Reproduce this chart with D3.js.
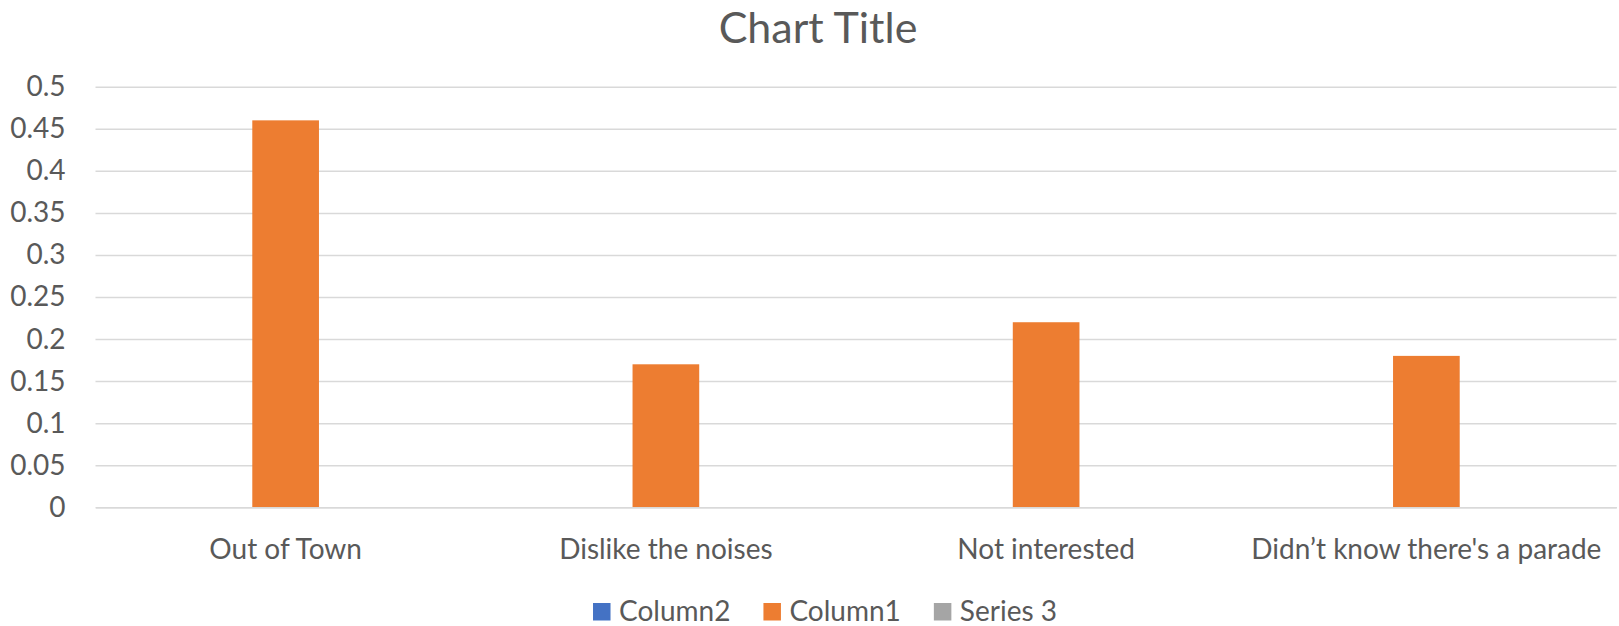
<!DOCTYPE html>
<html>
<head>
<meta charset="utf-8">
<script src="https://cdn.jsdelivr.net/npm/d3@7"></script>
<style>
  html, body { margin: 0; padding: 0; background: #ffffff; }
  svg { display: block; }
  text { font-family: Lato, "Open Sans", sans-serif; fill: #595959; }
</style>
</head>
<body>
<svg id="chart" width="1619" height="626"></svg>
<script>
// Categories and series
const categories = ["Out of Town", "Dislike the noises", "Not interested", "Didn\u2019t know there's a parade"];
const seriesNames = ["Column2", "Column1", "Series 3"];
const column2 = [null, null, null, null];
const column1 = [0.46, 0.17, 0.22, 0.18];
const series3 = [null, null, null, null];
const yTicks = [0, 0.05, 0.1, 0.15, 0.2, 0.25, 0.3, 0.35, 0.4, 0.45, 0.5];
const chartTitle = "Chart Title";

const seriesValues = [column2, column1, series3];
const seriesColors = ["#4472C4", "#ED7D31", "#A5A5A5"];

const W = 1619, H = 626;
const plot = { left: 95.5, right: 1616.5, top: 86.7, bottom: 507.3 };

const svg = d3.select("#chart");

const y = d3.scaleLinear().domain([0, 0.5]).range([plot.bottom, plot.top]);
const x0 = d3.scaleBand().domain(categories).range([plot.left, plot.right])
  .paddingInner(0.474).paddingOuter(0.237);
const x1 = d3.scaleBand().domain(seriesNames).range([0, x0.bandwidth()]);

// Horizontal gridlines with value labels
const yAxis = d3.axisLeft(y).tickValues(yTicks)
  .tickSize(-(plot.right - plot.left)).tickPadding(30)
  .tickFormat(d => String(+d.toFixed(2)));
const gy = svg.append("g").attr("transform", `translate(${plot.left},0)`).call(yAxis);
gy.select(".domain").remove();
gy.selectAll(".tick line").attr("stroke", "#d9d9d9").attr("stroke-width", 1.5);
gy.selectAll(".tick text").attr("font-size", 28).style("font-family", "Lato").attr("fill", "#595959");

// Bars
const rows = categories.map((c, i) => ({ category: c, values: seriesNames.map((s, k) => ({ series: s, value: seriesValues[k][i], color: seriesColors[k] })) }));
const groups = svg.append("g").selectAll("g").data(rows).join("g")
  .attr("transform", d => `translate(${x0(d.category)},0)`);
groups.selectAll("rect").data(d => d.values.filter(v => v.value != null)).join("rect")
  .attr("x", d => x1(d.series))
  .attr("width", x1.bandwidth())
  .attr("y", d => y(d.value))
  .attr("height", d => y(0) - y(d.value))
  .attr("fill", d => d.color);

// Category axis
const xAxis = d3.axisBottom(x0).tickSize(0).tickPadding(0);
const gx = svg.append("g").attr("transform", `translate(0,${plot.bottom})`).call(xAxis);
gx.select(".domain").attr("stroke", "#d9d9d9").attr("stroke-width", 1.5);
gx.selectAll(".tick text").attr("font-size", 28).attr("dy", null).attr("y", 52)
  .style("font-family", "Lato").attr("fill", "#595959");

// Title
svg.append("text").attr("x", 818).attr("y", 43).attr("text-anchor", "middle")
  .attr("font-size", 43).text(chartTitle);

// Legend
const legend = svg.append("g");
const items = legend.selectAll("g").data(seriesNames).join("g");
items.append("rect").attr("width", 17.5).attr("height", 17.5).attr("y", 603)
  .attr("fill", (d, i) => seriesColors[i]);
items.append("text").attr("x", 26).attr("y", 621).attr("font-size", 28).text(d => d);
let cursor = 0;
items.each(function () {
  const w = this.querySelector("text").getComputedTextLength();
  d3.select(this).attr("data-offset", cursor);
  cursor += 26 + w + 33;
});
const total = cursor - 33;
const start = 825 - total / 2;
items.attr("transform", function () { return `translate(${start + +this.getAttribute("data-offset")},0)`; });
</script>
</body>
</html>
